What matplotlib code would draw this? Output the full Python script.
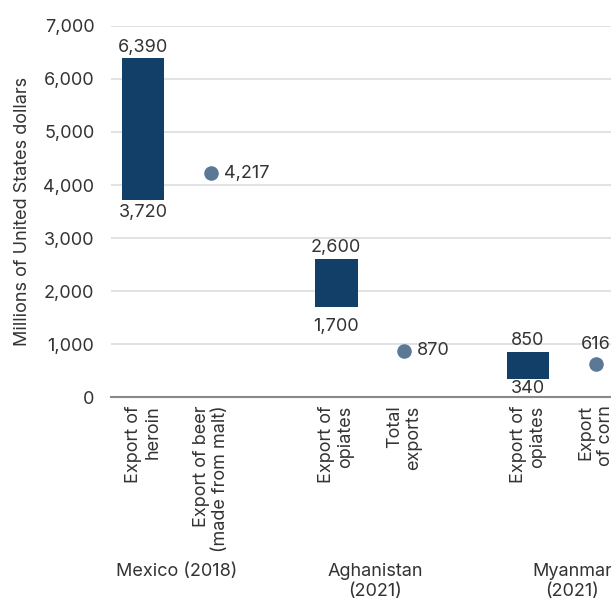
import matplotlib
matplotlib.use("Agg")
import matplotlib.pyplot as plt
from matplotlib.transforms import blended_transform_factory

plt.rcParams["font.family"] = ["Inter", "DejaVu Sans"]

# data
categories = ["Export of\nheroin", "Export of beer\n(made from malt)",
              "Export of\nopiates", "Total\nexports",
              "Export of\nopiates", "Export\nof corn"]
groups = ["Mexico (2018)", "Aghanistan\n(2021)", "Myanmar\n(2021)"]
xpos = [0, 1, 2.84, 3.84, 5.66, 6.66]
bar_idx = [0, 2, 4]
bar_low = [3720, 1700, 340]
bar_high = [6390, 2600, 850]
dot_idx = [1, 3, 5]
dot_val = [4217, 870, 616]

BAR_C = "#123f68"
DOT_C = "#5b7997"
TXT = "#333333"
FS = 13
low_off = [-3, -8, -1]   # label gaps below the bars, in points

fig = plt.figure(figsize=(6.11, 6.03), dpi=100)
ax = fig.add_axes([0.1817, 0.3416, 0.8183, 0.6153])

bx = [xpos[i] for i in bar_idx]
ax.bar(bx, [h - l for l, h in zip(bar_low, bar_high)], bottom=bar_low,
       width=0.63, color=BAR_C, zorder=3)
for x, l, h, off in zip(bx, bar_low, bar_high, low_off):
    ax.annotate(f"{h:,}", (x, h), xytext=(0, 2), textcoords="offset points",
                ha="center", va="bottom", fontsize=FS, color=TXT)
    ax.annotate(f"{l:,}", (x, l), xytext=(0, off), textcoords="offset points",
                ha="center", va="top", fontsize=FS, color=TXT)

dx = [xpos[i] for i in dot_idx]
ax.scatter(dx, dot_val, s=110, color=DOT_C, zorder=4, linewidths=0)
for x, v in zip(dx[:2], dot_val[:2]):
    ax.annotate(f"{v:,}", (x, v), xytext=(9, 0), textcoords="offset points",
                ha="left", va="center", fontsize=FS, color=TXT)
ax.annotate(f"{dot_val[2]:,}", (dx[2], dot_val[2]), xytext=(0, 8),
            textcoords="offset points", ha="center", va="bottom",
            fontsize=FS, color=TXT)

ax.set_xlim(-0.47, 6.88)
ax.set_ylim(0, 7000)
ax.set_yticks(range(0, 7001, 1000))
ax.set_yticklabels([f"{v:,}" for v in range(0, 7001, 1000)])
ax.set_xticks(xpos)
ax.set_xticklabels(categories, rotation=90, va="top", ha="center",
                   multialignment="right")
ax.tick_params(axis="both", length=0, labelsize=FS, labelcolor=TXT)
ax.tick_params(axis="x", pad=6)
ax.tick_params(axis="y", pad=12)
ax.set_ylabel("Millions of United States dollars", fontsize=FS,
              color=TXT, labelpad=9)

ax.grid(axis="y", color="#dddddd", lw=1.2, zorder=0)
ax.set_axisbelow(True)
for s in ["top", "right", "left"]:
    ax.spines[s].set_visible(False)
ax.spines["bottom"].set_color("#888888")
ax.spines["bottom"].set_linewidth(1.5)

tr = blended_transform_factory(ax.transData, fig.transFigure)
gx = [(xpos[0] + xpos[1]) / 2, (xpos[2] + xpos[3]) / 2 + 0.07,
      (xpos[4] + xpos[5]) / 2 + 0.15]
for x, g in zip(gx, groups):
    ax.text(x, 0.066, g, transform=tr, ha="center", va="top",
            fontsize=FS, color=TXT, linespacing=1.2)

fig.savefig("out.png", dpi=100)
